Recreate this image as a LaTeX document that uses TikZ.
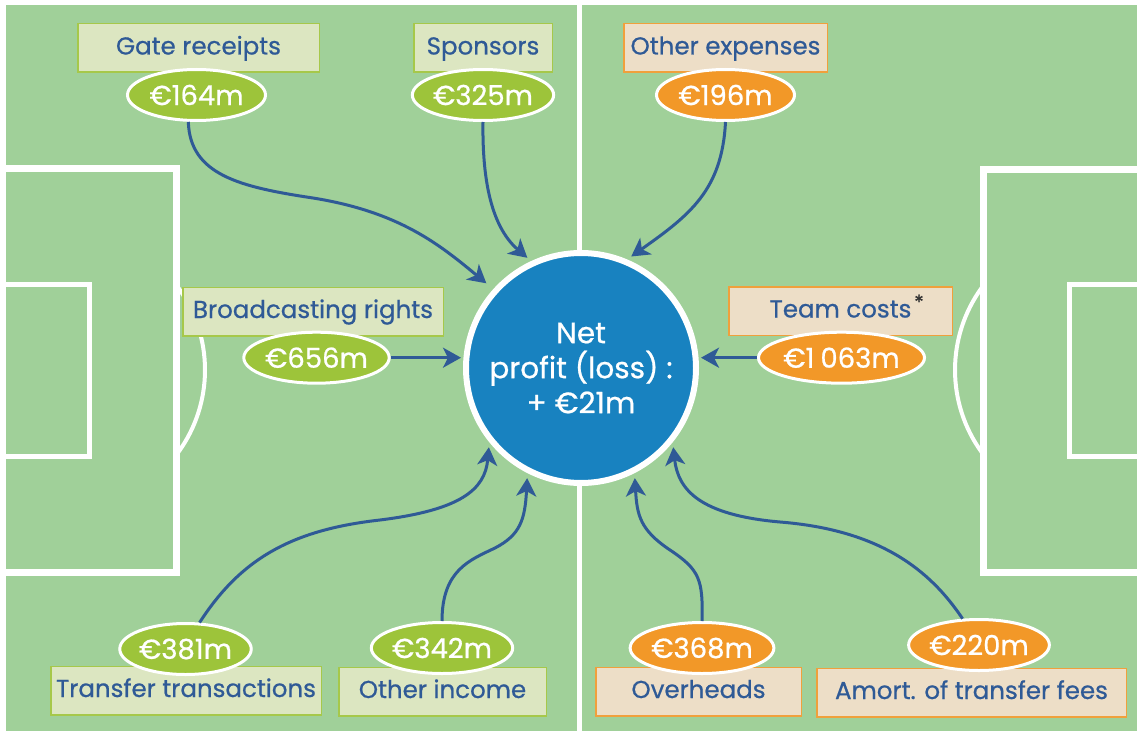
\documentclass[tikz,border=0pt]{standalone}
\usepackage{fontspec}
\setmainfont{Poppins}[FakeBold=0.7]
\usetikzlibrary{shapes.geometric,arrows.meta}
\definecolor{field}{HTML}{A0D099}
\definecolor{gfill}{HTML}{DCE6C1}
\definecolor{gline}{HTML}{A6C84A}
\definecolor{ofill}{HTML}{EDDEC7}
\definecolor{oline}{HTML}{F0A03C}
\definecolor{gell}{HTML}{9DC43A}
\definecolor{oell}{HTML}{F29828}
\definecolor{netblue}{HTML}{1882C0}
\definecolor{txtblue}{HTML}{2F5A96}
\definecolor{arrowc}{HTML}{2F5A96}
\begin{document}
\begin{tikzpicture}[x=1pt,y=-1pt,
  lbl/.style={draw=#1, line width=1.5pt, text=txtblue,
    font=\fontsize{24.5}{28}\selectfont, inner sep=0pt,
    text height=18pt, text depth=5pt, minimum height=48.5pt},
  gbox/.style={lbl=gline, fill=gfill},
  obox/.style={lbl=oline, fill=ofill},
  valnode/.style={ellipse, draw=white, line width=3pt, text=white,
    font=\fontsize{27.5}{32}\selectfont, inner sep=0pt, minimum height=51pt},
  gvalue/.style={valnode, fill=gell},
  ovalue/.style={valnode, fill=oell},
  pitch/.style={draw=white, line width=#1},
  flow/.style={draw=arrowc, line width=3pt,
    -{Stealth[length=18pt,width=20pt,inset=5pt]}, shorten >=5pt}
]
\useasboundingbox (0,0) rectangle (1137,733);
% pitch
\fill[white] (0,0) rectangle (1137,733);
\fill[field] (6,5) rectangle (1137,731);
\draw[pitch=5pt] (579.5,5) -- (579.5,731);
\draw[pitch=7pt] (0,168.5) -- (176.5,168.5) -- (176.5,572) -- (0,572);
\draw[pitch=5pt] (0,284.5) -- (89.5,284.5) -- (89.5,456.5) -- (0,456.5);
\draw[pitch=4pt] (65,370) ++(-36:140) arc[start angle=-36, end angle=36, radius=140];
\draw[pitch=7pt] (1140,169) -- (983,169) -- (983,572) -- (1140,572);
\draw[pitch=5pt] (1140,284.5) -- (1069.5,284.5) -- (1069.5,456.5) -- (1140,456.5);
\draw[pitch=4pt] (1095,370) ++(144:140) arc[start angle=144, end angle=216, radius=140];

% centre
\node[circle, fill=netblue, draw=white, line width=6pt, minimum size=230pt,
  inner sep=0pt, text=white, align=center,
  font=\fontsize{29.5}{35}\selectfont] (net) at (581,368)
  {Net\\profit (loss) :\\+ €21m};

% label boxes
\node[gbox, minimum width=241.5pt] (gate) at (198.5,48) {Gate receipts};
\node[gbox, minimum width=138.5pt] (spon) at (483,48) {Sponsors};
\node[obox, minimum width=203.5pt] (othexp) at (725.5,48) {Other expenses};
\node[gbox, minimum width=260.5pt] (broad) at (313,311.5) {Broadcasting rights};
\node[obox, minimum width=223.5pt] (team) at (840.5,311) {Team costs};
\node[text=black!80, font=\fontsize{20}{22}\selectfont, inner sep=0pt] (ast) at (919,302) {*};
\node[gbox, minimum width=270.5pt] (trans) at (186,690.5) {Transfer transactions};
\node[gbox, minimum width=207.5pt] (othinc) at (442.5,691.5) {Other income};
\node[obox, minimum width=205.5pt] (over) at (698.5,691.5) {Overheads};
\node[obox, minimum width=309.5pt] (amort) at (971.5,692.5) {Amort. of transfer fees};

% value ellipses
\node[gvalue, minimum width=138pt] (v164) at (196.5,95) {€164m};
\node[gvalue, minimum width=137pt] (v325) at (483,95) {€325m};
\node[ovalue, minimum width=138pt] (v196) at (725.5,95) {€196m};
\node[gvalue, minimum width=138pt] (v656) at (316.5,357.7) {€656m};
\node[ovalue, minimum width=166pt] (v1063) at (841.5,357.7) {€1\hspace{0.22em}063m};
\node[gvalue, minimum width=123pt] (v381) at (185.5,649) {€381m};
\node[gvalue, minimum width=123pt] (v342) at (442,648) {€342m};
\node[ovalue, minimum width=139pt] (v368) at (702,648) {€368m};
\node[ovalue, minimum width=139pt] (v220) at (979,645) {€220m};

% flows
\draw[flow, shorten >=9pt] (v164.-107) .. controls (190,175) and (240,187) .. (313,198)
  .. controls (400,212) and (440,245) .. (net.138);
\draw[flow] (v325.south) .. controls (482,190) and (495,230) .. (net.115);
\draw[flow] (v196.south) .. controls (722,190) and (690,215) .. (net.67);
\draw[flow, shorten >=2pt] (v656.east) -- (v656.east -| net.west);
\draw[flow, shorten >=2pt] (v1063.west) -- (v1063.west -| net.east);
\draw[flow] (v381.62) .. controls (240,560) and (290,530) .. (380,520)
  .. controls (460,510) and (485,490) .. (net.219);
\draw[flow] (v342.north) .. controls (442,570) and (470,560) .. (495,548)
  .. controls (520,535) and (525,520) .. (net.243);
\draw[flow] (v368.north) .. controls (703,580) and (700,570) .. (670,550)
  .. controls (640,530) and (637,515) .. (net.297);
\draw[flow] (v220.122) .. controls (930,570) and (880,530) .. (780,522)
  .. controls (700,515) and (678,490) .. (net.321);
\end{tikzpicture}
\end{document}
